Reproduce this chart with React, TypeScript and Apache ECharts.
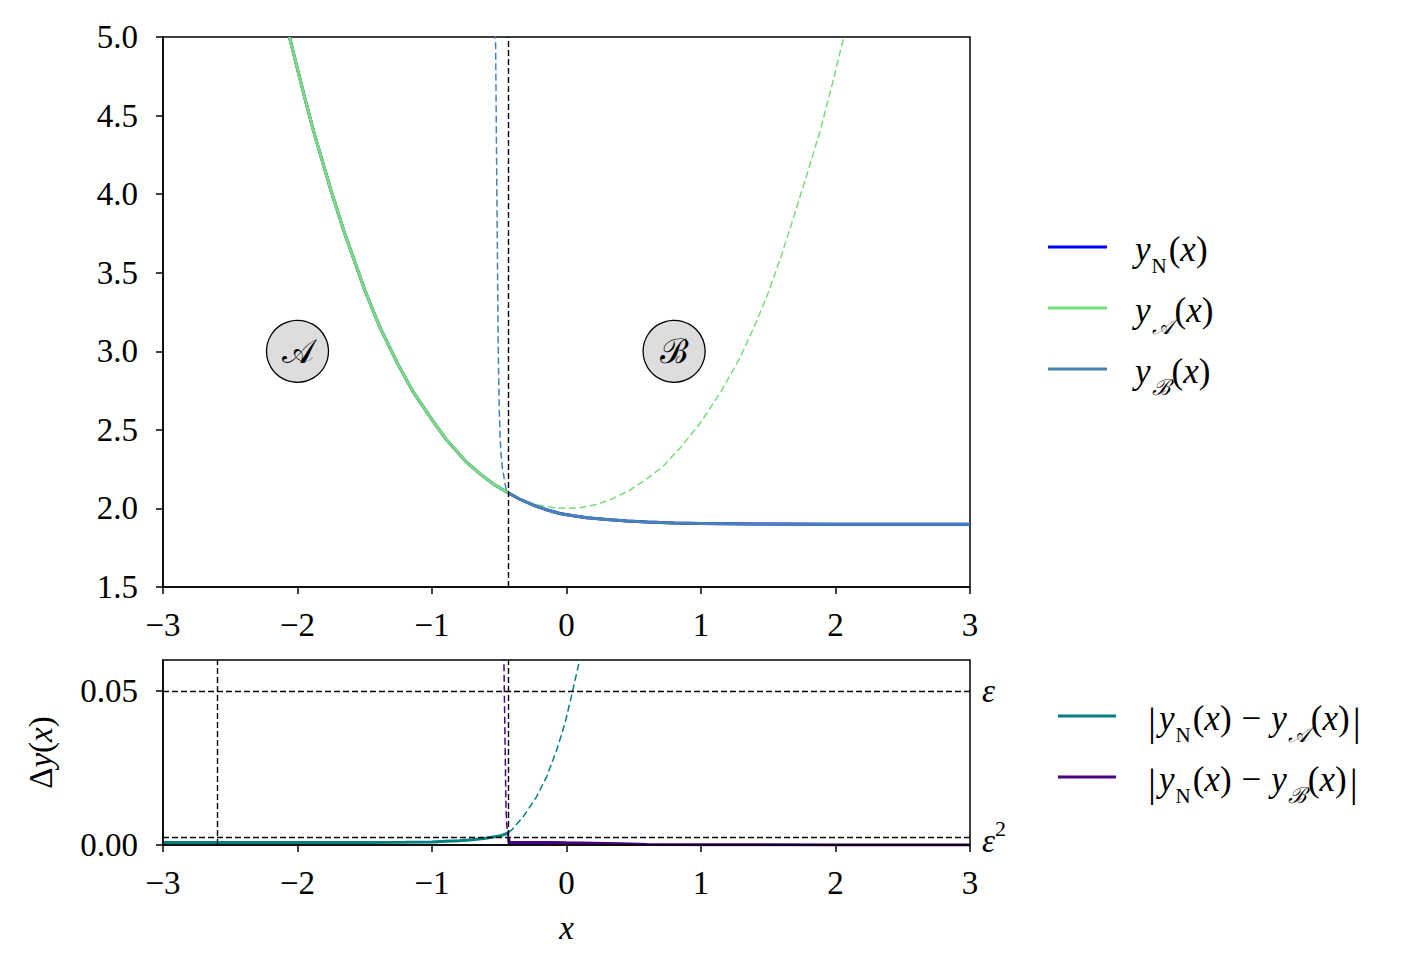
import React, { useEffect, useRef } from "react";
import * as echarts from "echarts";

// ---------- data ----------
const X_TICKS_MIN = -3;
const X_TICKS_MAX = 3;
const BOUNDARY_X = -0.431; // switch between region A and B
const EXTRA_VLINE_X = -2.6; // dashed vertical line in the lower panel
const EPS = 0.05;
const EPS2 = 0.0025;

// regions marked by circles
const REGION_X = [-2, 0.8];
const REGION_Y = [3, 3];
const REGION_LABELS = ["𝒜", "ℬ"];

// y_N(x): numerical solution
const yN_x = [-2.06, -1.95, -1.877, -1.75, -1.649, -1.5, -1.389, -1.25, -1.139, -1.0, -0.891, -0.75, -0.643, -0.54, -0.431,
  -0.35, -0.25, -0.15, -0.05, 0.05, 0.15, 0.3, 0.45, 0.6, 0.8, 1.0, 1.4, 2.0, 3.0];
const yN_y = [5.0, 4.625, 4.39, 4.02, 3.75, 3.39, 3.155, 2.912, 2.74, 2.565, 2.435, 2.3, 2.22, 2.153, 2.098,
  2.06, 2.022, 1.992, 1.968, 1.953, 1.94, 1.929, 1.92, 1.913, 1.907, 1.904, 1.901, 1.9, 1.9];

// y_A(x): solid inside region A
const yA_in_x = [-2.06, -1.95, -1.877, -1.75, -1.649, -1.5, -1.389, -1.25, -1.139, -1.0, -0.891, -0.75, -0.643, -0.54, -0.431];
const yA_in_y = [5.0, 4.625, 4.39, 4.02, 3.75, 3.39, 3.155, 2.912, 2.74, 2.565, 2.435, 2.3, 2.22, 2.153, 2.098];
// y_A(x): dashed outside region A
const yA_out_x = [-0.431, -0.3, -0.2, -0.1, 0.0, 0.1, 0.224, 0.35, 0.472, 0.6, 0.72, 0.85, 1.0, 1.15, 1.29, 1.4, 1.49, 1.6, 1.684, 1.8, 1.885, 1.97, 2.056, 2.08];
const yA_out_y = [2.098, 2.046, 2.021, 2.005, 2.0, 2.005, 2.025, 2.064, 2.117, 2.19, 2.27, 2.39, 2.55, 2.745, 2.96, 3.165, 3.35, 3.615, 3.84, 4.16, 4.4, 4.68, 4.98, 5.06];

// y_B(x): dashed outside region B
const yB_out_x = [-0.532, -0.527, -0.522, -0.517, -0.512, -0.507, -0.502, -0.495, -0.487, -0.477, -0.465, -0.45, -0.431];
const yB_out_y = [5.1, 4.95, 4.45, 3.95, 3.45, 3.0, 2.72, 2.48, 2.35, 2.26, 2.2, 2.125, 2.098];
// y_B(x): solid inside region B
const yB_in_x = [-0.431, -0.35, -0.25, -0.15, -0.05, 0.05, 0.15, 0.3, 0.45, 0.6, 0.8, 1.0, 1.4, 2.0, 3.0];
const yB_in_y = [2.098, 2.06, 2.022, 1.992, 1.968, 1.953, 1.94, 1.929, 1.92, 1.913, 1.907, 1.904, 1.901, 1.9, 1.9];

// |y_N - y_A|
const dA_in_x = [-3, -2.5, -2, -1.5, -1.2, -1.0, -0.9, -0.8, -0.7, -0.6, -0.5, -0.45, -0.431];
const dA_in_y = [0.0008, 0.0008, 0.0008, 0.0008, 0.0009, 0.001, 0.0012, 0.0014, 0.0017, 0.0022, 0.0029, 0.0036, 0.0041];
const dA_out_x = [-0.431, -0.407, -0.321, -0.222, -0.147, -0.073, -0.011, 0.039, 0.095, 0.11];
const dA_out_y = [0.0041, 0.0049, 0.0092, 0.0157, 0.0222, 0.0308, 0.0395, 0.0487, 0.0595, 0.063];

// |y_N - y_B|
const dB_out_x = [-0.466, -0.461, -0.457, -0.453, -0.45, -0.445, -0.44, -0.435, -0.431];
const dB_out_y = [0.062, 0.046, 0.034, 0.022, 0.0124, 0.007, 0.0045, 0.003, 0.0026];
const dB_in_x = [-0.431, -0.426, -0.4, -0.3, -0.2, -0.1, 0.0, 0.2, 0.4, 0.6, 1.0, 2.0, 3.0];
const dB_in_y = [0.0026, 0.0008, 0.0008, 0.0008, 0.0008, 0.0008, 0.0007, 0.0006, 0.0004, 0.0002, 0.0001, 0.0, 0.0];

// ---------- styling ----------
const SERIF = "Liberation Serif";
const SCRIPT = "DejaVu Serif";
const C_N = "#0000ff";
const C_A = "#77dd77";
const C_B = "#4682b4";
const C_DA = "#008080";
const C_DB = "#4b0082";
const FS = 33;
const LFS = 35;

const zip = (xs: number[], ys: number[]) => xs.map((x, i) => [x, ys[i]]);
const fmtX = (v: number) => (v < 0 ? "\u2212" + Math.abs(v) : String(v));

const mathRich = {
  v: { fontFamily: SERIF, fontStyle: "italic", fontSize: LFS, padding: [0, 0, 10, 0], verticalAlign: "bottom", color: "#000" },
  p: { fontFamily: SERIF, fontSize: LFS, padding: [0, 0, 10, 0], verticalAlign: "bottom", color: "#000" },
  m: { fontFamily: SERIF, fontSize: LFS, padding: [0, 10, 10, 10], verticalAlign: "bottom", color: "#000" },
  s: { fontFamily: SERIF, fontSize: 21, padding: [0, 2, 0, 1], verticalAlign: "bottom", color: "#000" },
  c: { fontFamily: SCRIPT, fontStyle: "italic", fontSize: 22, padding: [0, 2, 0, 1], verticalAlign: "bottom", color: "#000" },
  bar: { fontFamily: SERIF, fontSize: 40, padding: [0, 3, 4, 3], verticalAlign: "bottom", color: "#000" },
};

function lineSeries(name: string, data: number[][], color: string, dashed: boolean, gi: number, extra: any = {}) {
  return {
    type: "line",
    name,
    xAxisIndex: gi,
    yAxisIndex: gi,
    data,
    showSymbol: false,
    symbol: "none",
    clip: true,
    silent: true,
    lineStyle: dashed
      ? { color, width: 1.5, type: [7, 3.5] }
      : { color, width: 3, type: "solid" },
    ...extra,
  };
}

const dashedBlack = { color: "#000", width: 1.4, type: [6, 3] };

export default function App() {
  const ref = useRef<HTMLDivElement>(null);
  useEffect(() => {
    if (!ref.current) return;
    const chart = echarts.init(ref.current, null, { renderer: "svg" });

    const xAxisBase = (gi: number) => ({
      type: "value",
      gridIndex: gi,
      min: X_TICKS_MIN,
      max: X_TICKS_MAX,
      interval: 1,
      z: 5,
      axisLine: { show: true, onZero: false, lineStyle: { color: "#000", width: 1.5 } },
      axisTick: { show: true, length: 7, lineStyle: { color: "#000", width: 1.5 } },
      axisLabel: { fontFamily: SERIF, fontSize: FS, color: "#000", margin: 21, formatter: fmtX },
      splitLine: { show: false },
    });

    const yAxisCommon = {
      type: "value",
      z: 5,
      axisLine: { show: true, onZero: false, lineStyle: { color: "#000", width: 1.5 } },
      splitLine: { show: false },
    };

    const legendEntry = (x1: number, x2: number, y: number, color: string, tx: number, text: string) => [
      { type: "line", shape: { x1, y1: y, x2, y2: y }, style: { stroke: color, lineWidth: 3 } },
      {
        type: "text",
        x: tx,
        y: y + 7,
        style: { text, rich: mathRich, align: "left", verticalAlign: "middle" },
      },
    ];

    const option: any = {
      animation: false,
      textStyle: { fontFamily: SERIF },
      grid: [
        { left: 163, top: 37, width: 807, height: 550, show: true, borderColor: "#000", borderWidth: 1.5, backgroundColor: "transparent" },
        { left: 163, top: 660, width: 807, height: 185, show: true, borderColor: "#000", borderWidth: 1.5, backgroundColor: "transparent" },
      ],
      xAxis: [
        xAxisBase(0),
        {
          ...xAxisBase(1),
          name: "x",
          nameLocation: "middle",
          nameGap: 66,
          nameTextStyle: { fontFamily: SERIF, fontStyle: "italic", fontSize: FS, color: "#000" },
        },
      ],
      yAxis: [
        {
          ...yAxisCommon,
          gridIndex: 0,
          min: 1.5,
          max: 5,
          interval: 0.5,
          axisTick: { show: true, length: 7, lineStyle: { color: "#000", width: 1.5 } },
          axisLabel: { fontFamily: SERIF, fontSize: FS, color: "#000", margin: 25, formatter: (v: number) => v.toFixed(1) },
        },
        {
          ...yAxisCommon,
          gridIndex: 1,
          min: 0,
          max: 0.06,
          axisTick: { show: true, length: 7, customValues: [0, EPS], lineStyle: { color: "#000", width: 1.5 } },
          axisLabel: { fontFamily: SERIF, fontSize: FS, color: "#000", margin: 25, customValues: [0, EPS], formatter: (v: number) => v.toFixed(2) },
          name: "{d|Δ}{v|y}{p|(}{v|x}{p|)}",
          nameLocation: "middle",
          nameRotate: 90,
          nameGap: 106,
          nameTextStyle: {
            rich: {
              d: { fontFamily: SERIF, fontSize: FS, color: "#000" },
              v: { fontFamily: SERIF, fontStyle: "italic", fontSize: FS, color: "#000" },
              p: { fontFamily: SERIF, fontSize: FS, color: "#000" },
            },
          },
        },
      ],
      series: [
        lineSeries("y_N(x)", zip(yN_x, yN_y), C_N, false, 0, {
          markLine: {
            silent: true,
            precision: 6,
            symbol: ["none", "none"],
            label: { show: false },
            lineStyle: dashedBlack,
            data: [{ xAxis: BOUNDARY_X }],
          },
        }),
        lineSeries("y_A(x)", zip(yA_in_x, yA_in_y), C_A, false, 0),
        lineSeries("y_A(x) outside", zip(yA_out_x, yA_out_y), C_A, true, 0),
        lineSeries("y_B(x) outside", zip(yB_out_x, yB_out_y), C_B, true, 0),
        lineSeries("y_B(x)", zip(yB_in_x, yB_in_y), C_B, false, 0),
        {
          type: "scatter",
          name: "regions",
          xAxisIndex: 0,
          yAxisIndex: 0,
          data: zip(REGION_X, REGION_Y),
          symbol: "circle",
          symbolSize: 62,
          z: 10,
          silent: true,
          itemStyle: { color: "#dddddd", borderColor: "#000", borderWidth: 1.3, opacity: 1 },
          label: {
            show: true,
            position: "inside",
            formatter: (p: any) => REGION_LABELS[p.dataIndex],
            fontFamily: SCRIPT,
            fontSize: 34,
            color: "#000",
          },
        },
        lineSeries("|y_N - y_A|", zip(dA_in_x, dA_in_y), C_DA, false, 1, {
          markLine: {
            silent: true,
            precision: 6,
            symbol: ["none", "none"],
            lineStyle: dashedBlack,
            data: [
              {
                yAxis: EPS,
                label: { show: true, position: "end", distance: 12, formatter: "{e|ε}", rich: { e: { fontFamily: SERIF, fontStyle: "italic", fontSize: FS, color: "#000" } } },
              },
              {
                yAxis: EPS2,
                label: {
                  show: true,
                  position: "end",
                  distance: 12,
                  formatter: "{e|ε}{u|2}",
                  rich: {
                    e: { fontFamily: SERIF, fontStyle: "italic", fontSize: FS, color: "#000", verticalAlign: "bottom" },
                    u: { fontFamily: SERIF, fontSize: 22, color: "#000", verticalAlign: "bottom", padding: [0, 0, 18, 0] },
                  },
                },
              },
              { xAxis: EXTRA_VLINE_X, label: { show: false } },
              { xAxis: BOUNDARY_X, label: { show: false } },
            ],
          },
        }),
        lineSeries("|y_N - y_A| outside", zip(dA_out_x, dA_out_y), C_DA, true, 1),
        lineSeries("|y_N - y_B| outside", zip(dB_out_x, dB_out_y), C_DB, true, 1),
        lineSeries("|y_N - y_B|", zip(dB_in_x, dB_in_y), C_DB, false, 1),
      ],
      graphic: [
        ...legendEntry(1048, 1107, 247, C_N, 1135, "{v|y}{s|N}{p|(}{v|x}{p|)}"),
        ...legendEntry(1048, 1107, 308, C_A, 1135, "{v|y}{c|𝒜}{p|(}{v|x}{p|)}"),
        ...legendEntry(1048, 1107, 369, C_B, 1135, "{v|y}{c|ℬ}{p|(}{v|x}{p|)}"),
        ...legendEntry(1058, 1116, 716, C_DA, 1145, "{bar||}{v|y}{s|N}{p|(}{v|x}{p|)}{m|−}{v|y}{c|𝒜}{p|(}{v|x}{p|)}{bar||}"),
        ...legendEntry(1058, 1116, 777, C_DB, 1145, "{bar||}{v|y}{s|N}{p|(}{v|x}{p|)}{m|−}{v|y}{c|ℬ}{p|(}{v|x}{p|)}{bar||}"),
      ],
    };

    chart.setOption(option);
    return () => chart.dispose();
  }, []);

  return <div ref={ref} style={{ position: "fixed", left: 0, top: 0, width: 1421, height: 971, background: "#fff" }} />;
}
